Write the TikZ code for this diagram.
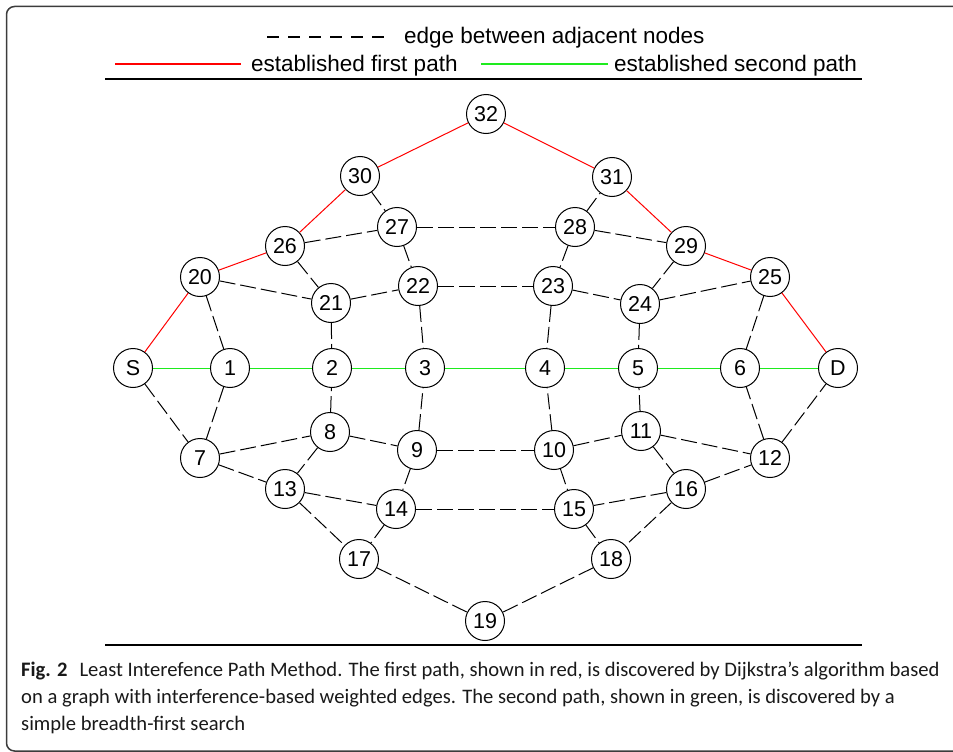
\documentclass[tikz,border=0pt]{standalone}
\usepackage{fontspec}
\setmainfont{Liberation Sans}
\newfontfamily\capfont{Carlito}
\definecolor{pathgreen}{RGB}{30,235,30}
\definecolor{framegray}{RGB}{60,60,60}
\begin{document}
\begin{tikzpicture}[x=1pt,y=-1pt,
  vtx/.style={circle,draw,line width=1pt,fill=white,minimum size=39pt,inner sep=0pt,font=\fontsize{21.5}{21.5}\selectfont},
  adj/.style={line width=1pt,dash pattern=on 16pt off 5pt},
  legdash/.style={line width=1.2pt,dash pattern=on 12pt off 9pt},
  firstpath/.style={line width=1pt,red},
  secondpath/.style={line width=1pt,pathgreen},
  legline/.style={line width=1.5pt},
  legtext/.style={anchor=west,inner sep=0pt,font=\fontsize{22.5}{22.5}\selectfont},
  rule/.style={line width=1.3pt}]
\useasboundingbox (0,0) rectangle (953,752);
\clip (0,0) rectangle (953,752);
\draw[line width=1.5pt,draw=framegray,rounded corners=8pt] (6.5,6.5) rectangle (975,751);

% legend
\coordinate (l1a) at (267,37);
\coordinate (l1b) at (389,37);
\draw[legdash] (l1a) -- (l1b);
\node[legtext] (t1) at (404,38) {edge between adjacent nodes};
\coordinate (l2a) at (115,64);
\coordinate (l2b) at (241,64);
\draw[firstpath,legline] (l2a) -- (l2b);
\node[legtext] (t2) at (251,66) {established first path};
\coordinate (l3a) at (481,64);
\coordinate (l3b) at (608,64);
\draw[secondpath,legline] (l3a) -- (l3b);
\node[legtext] (t3) at (614,66) {established second path};
\coordinate (r1a) at (105,79);
\coordinate (r1b) at (862,79);
\draw[rule] (r1a) -- (r1b);
\coordinate (r2a) at (105,645);
\coordinate (r2b) at (862,645);
\draw[rule] (r2a) -- (r2b);

% nodes
\node[vtx] (S) at (133,368) {S};
\node[vtx] (n1) at (230,368) {1};
\node[vtx] (n2) at (332,368) {2};
\node[vtx] (n3) at (425,368) {3};
\node[vtx] (n4) at (545,368) {4};
\node[vtx] (n5) at (638,368) {5};
\node[vtx] (n6) at (740,368) {6};
\node[vtx] (D) at (838,368) {D};
\node[vtx] (n20) at (200,277) {20};
\node[vtx] (n26) at (285,246) {26};
\node[vtx] (n30) at (360,176) {30};
\node[vtx] (n27) at (397,227) {27};
\node[vtx] (n21) at (331,303) {21};
\node[vtx] (n22) at (418,286) {22};
\node[vtx] (n32) at (486,114) {32};
\node[vtx] (n31) at (612,177) {31};
\node[vtx] (n28) at (575,227) {28};
\node[vtx] (n29) at (686,246) {29};
\node[vtx] (n23) at (553,286) {23};
\node[vtx] (n24) at (640,304) {24};
\node[vtx] (n25) at (770,277) {25};
\node[vtx] (n7) at (200,458) {7};
\node[vtx] (n8) at (330,432) {8};
\node[vtx] (n9) at (417,450) {9};
\node[vtx] (n13) at (285,489) {13};
\node[vtx] (n14) at (396,509) {14};
\node[vtx] (n17) at (359,559) {17};
\node[vtx] (n19) at (485,621) {19};
\node[vtx] (n10) at (554,450) {10};
\node[vtx] (n11) at (641,431) {11};
\node[vtx] (n12) at (770,458) {12};
\node[vtx] (n16) at (686,489) {16};
\node[vtx] (n15) at (574,509) {15};
\node[vtx] (n18) at (611,559) {18};

% first path
\draw[firstpath] (S) -- (n20) -- (n26) -- (n30) -- (n32) -- (n31) -- (n29) -- (n25) -- (D);
% second path
\draw[secondpath] (S) -- (n1) -- (n2) -- (n3) -- (n4) -- (n5) -- (n6) -- (D);
% adjacency edges
\foreach \a/\b in {n20/n1, n20/n21, n26/n21, n26/n27, n30/n27, n27/n28, n27/n22,
  n21/n22, n21/n2, n22/n3, n22/n23, n28/n31, n28/n29, n28/n23, n23/n24, n23/n4,
  n29/n24, n24/n25, n24/n5, n25/n6,
  S/n7, n1/n7, n7/n8, n7/n13, n8/n13, n8/n9, n8/n2, n9/n3, n9/n10, n9/n14,
  n13/n14, n13/n17, n14/n17, n14/n15, n17/n19, n10/n4, n10/n11, n10/n15,
  n11/n5, n11/n12, n11/n16, n12/n6, n12/D, n16/n12, n16/n15, n16/n18,
  n15/n18, n18/n19}
  \draw[adj] (\a) -- (\b);

% caption
\node[anchor=north west,align=left,inner sep=0pt,
  font=\capfont\fontsize{20.6}{27}\selectfont,text=black!90] (cap) at (21,662)
  {\textbf{Fig. 2}\hspace{0.35em} Least Interefence Path Method. The first path, shown in red, is discovered by Dijkstra’s algorithm based\\
   on a graph with interference-based weighted edges. The second path, shown in green, is discovered by a\\
   simple breadth-first search};
\end{tikzpicture}
\end{document}
